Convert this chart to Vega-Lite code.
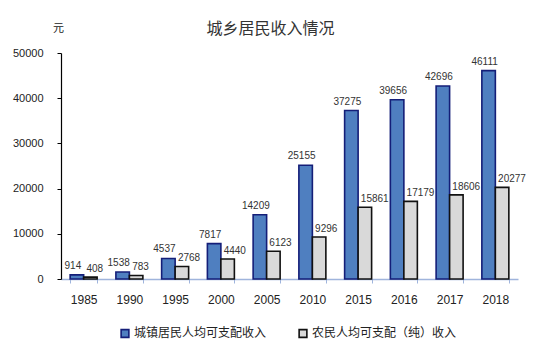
{
  "$schema": "https://vega.github.io/schema/vega-lite/v6.json",
  "width": 457,
  "height": 226,
  "autosize": "none",
  "padding": {"left": 61, "top": 53, "right": 35, "bottom": 83},
  "background": "white",
  "config": {
    "font": "Liberation Sans, Noto Sans CJK SC",
    "view": {"stroke": null}
  },
  "title": {
    "text": "城乡居民收入情况",
    "fontSize": 16,
    "fontWeight": "normal",
    "color": "#333333",
    "font": "Noto Sans CJK SC",
    "anchor": "middle",
    "dx": -19,
    "offset": -15
  },
  "data": {
    "values": [
      {"year": "1985", "type": "城镇居民人均可支配收入", "value": 914},
      {"year": "1985", "type": "农民人均可支配（纯）收入", "value": 408},
      {"year": "1990", "type": "城镇居民人均可支配收入", "value": 1538},
      {"year": "1990", "type": "农民人均可支配（纯）收入", "value": 783},
      {"year": "1995", "type": "城镇居民人均可支配收入", "value": 4537},
      {"year": "1995", "type": "农民人均可支配（纯）收入", "value": 2768},
      {"year": "2000", "type": "城镇居民人均可支配收入", "value": 7817},
      {"year": "2000", "type": "农民人均可支配（纯）收入", "value": 4440},
      {"year": "2005", "type": "城镇居民人均可支配收入", "value": 14209},
      {"year": "2005", "type": "农民人均可支配（纯）收入", "value": 6123},
      {"year": "2010", "type": "城镇居民人均可支配收入", "value": 25155},
      {"year": "2010", "type": "农民人均可支配（纯）收入", "value": 9296},
      {"year": "2015", "type": "城镇居民人均可支配收入", "value": 37275},
      {"year": "2015", "type": "农民人均可支配（纯）收入", "value": 15861},
      {"year": "2016", "type": "城镇居民人均可支配收入", "value": 39656},
      {"year": "2016", "type": "农民人均可支配（纯）收入", "value": 17179},
      {"year": "2017", "type": "城镇居民人均可支配收入", "value": 42696},
      {"year": "2017", "type": "农民人均可支配（纯）收入", "value": 18606},
      {"year": "2018", "type": "城镇居民人均可支配收入", "value": 46111},
      {"year": "2018", "type": "农民人均可支配（纯）收入", "value": 20277}
    ]
  },
  "encoding": {
    "x": {
      "field": "year",
      "type": "nominal",
      "sort": null,
      "scale": {"paddingInner": 0.41, "paddingOuter": 0.2},
      "axis": {
        "title": null,
        "labelAngle": 0,
        "labelFontSize": 12,
        "labelColor": "#222222",
        "labelPadding": 11,
        "domainColor": "#9fb4dc",
        "domainWidth": 1.5,
        "tickColor": "#9fb4dc",
        "tickSize": 4,
        "tickBand": "extent"
      }
    },
    "xOffset": {"field": "type", "type": "nominal", "sort": null},
    "y": {
      "field": "value",
      "type": "quantitative",
      "scale": {"domain": [0, 50000], "nice": false},
      "axis": {
        "title": "元",
        "titleAngle": 0,
        "titleFont": "Noto Sans CJK SC",
        "titleFontWeight": "normal",
        "titleFontSize": 11,
        "titleColor": "#222222",
        "titleX": -3,
        "titleY": -20,
        "titleAlign": "center",
        "values": [0, 10000, 20000, 30000, 40000, 50000],
        "format": "d",
        "grid": false,
        "labelFontSize": 11,
        "labelColor": "#222222",
        "labelPadding": 14,
        "domainColor": "#000000",
        "domainWidth": 1.2,
        "tickColor": "#000000",
        "tickSize": 4
      }
    }
  },
  "layer": [
    {
      "mark": {"type": "bar", "strokeWidth": 1.6},
      "encoding": {
        "color": {
          "field": "type",
          "type": "nominal",
          "sort": null,
          "scale": {"range": ["#4f7fc0", "#d9d9d9"]},
          "legend": {
            "title": null,
            "orient": "none",
            "direction": "horizontal",
            "legendX": 58,
            "legendY": 274,
            "symbolType": "square",
            "symbolSize": 60,
            "symbolStrokeWidth": 1.6,
            "labelFontSize": 12,
            "labelFont": "Noto Sans CJK SC",
            "labelColor": "#222222",
            "labelLimit": 300,
            "labelOffset": 3,
            "columnPadding": 28
          }
        },
        "stroke": {
          "field": "type",
          "type": "nominal",
          "sort": null,
          "scale": {"range": ["#141e78", "#111111"]},
          "legend": {
            "title": null,
            "orient": "none",
            "direction": "horizontal",
            "legendX": 58,
            "legendY": 274,
            "symbolType": "square",
            "symbolSize": 60,
            "symbolStrokeWidth": 1.6,
            "labelFontSize": 12,
            "labelFont": "Noto Sans CJK SC",
            "labelColor": "#222222",
            "labelLimit": 300,
            "labelOffset": 3,
            "columnPadding": 28
          }
        }
      }
    },
    {
      "transform": [{"filter": "datum.type === '城镇居民人均可支配收入'"}],
      "mark": {"type": "text", "baseline": "bottom", "dy": -4, "dx": -4, "fontSize": 10, "color": "#333333"},
      "encoding": {"text": {"field": "value", "type": "quantitative", "format": "d"}}
    },
    {
      "transform": [{"filter": "datum.type !== '城镇居民人均可支配收入'"}],
      "mark": {"type": "text", "baseline": "bottom", "align": "left", "dy": -3, "dx": -4, "fontSize": 10, "color": "#333333"},
      "encoding": {"text": {"field": "value", "type": "quantitative", "format": "d"}}
    }
  ]
}
